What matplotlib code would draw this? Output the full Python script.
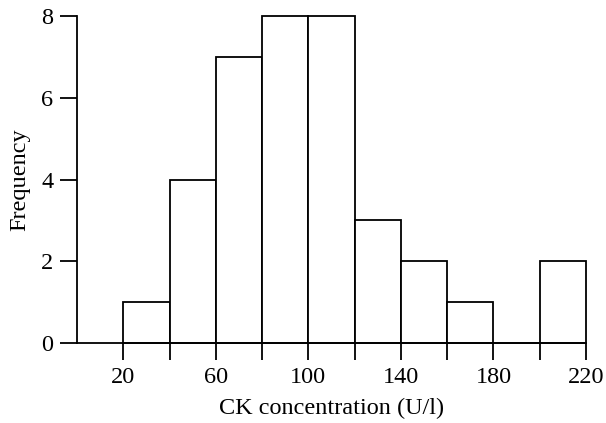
import matplotlib.pyplot as plt

plt.rcParams['font.family'] = ['Liberation Serif', 'DejaVu Serif']

# CK concentration histogram, bins of width 20 U/l
bin_edges = [20, 40, 60, 80, 100, 120, 140, 160, 180, 200, 220]
counts = [1, 4, 7, 8, 8, 3, 2, 1, 0, 2]
xtick_positions = [20, 40, 60, 80, 100, 120, 140, 160, 180, 200, 220]
xtick_labels = ['20', '', '60', '', '100', '', '140', '', '180', '', '220']
ytick_positions = [0, 2, 4, 6, 8]

fig = plt.figure(figsize=(6.06, 4.23), dpi=100)
ax = fig.add_axes([0.127, 0.189, 0.840, 0.773])

widths = [b - a for a, b in zip(bin_edges[:-1], bin_edges[1:])]
ax.bar(bin_edges[:-1], counts, width=widths, align='edge',
       facecolor='white', edgecolor='black', linewidth=1.3, clip_on=False)

ax.set_xlim(0, 220)
ax.set_ylim(0, 8)
ax.spines['top'].set_visible(False)
ax.spines['right'].set_visible(False)
for side in ['left', 'bottom']:
    ax.spines[side].set_linewidth(1.3)

ax.set_xticks(xtick_positions)
ax.set_xticklabels(xtick_labels)
ax.set_yticks(ytick_positions)
ax.tick_params(axis='both', direction='out', length=12, width=1.3,
               labelsize=17.5, pad=5)

ax.set_xlabel('CK concentration (U/l)', fontsize=17.5, labelpad=7)
ax.set_ylabel('Frequency', fontsize=17.5, labelpad=8)

fig.savefig('out.png', dpi=100)
